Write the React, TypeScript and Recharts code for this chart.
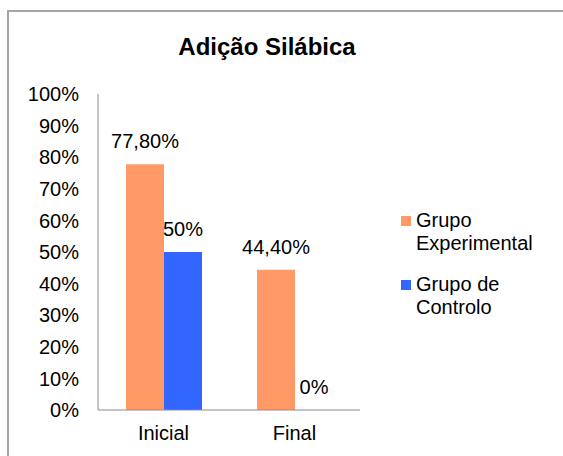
import React from 'react';
import { BarChart, Bar, XAxis, YAxis, Legend, LabelList } from 'recharts';

const categories = ['Inicial', 'Final'];
const experimental = [77.8, 44.4];
const controlo = [50, 0];
const yTicks = [0, 10, 20, 30, 40, 50, 60, 70, 80, 90, 100];
const seriesNames = ['Grupo Experimental', 'Grupo de Controlo'];
const seriesColors = ['#FF9966', '#3366FF'];

const data = categories.map((c, i) => ({
  name: c,
  exp: experimental[i],
  ctl: controlo[i],
}));

const FONT = '"Liberation Sans", Arial, sans-serif';
const FS = 20;

// 77.8 -> "77,80%", 50 -> "50%"
const fmtPct = (v: any) => {
  const n = Number(v);
  return Number.isInteger(n) ? `${n}%` : `${n.toFixed(2).replace('.', ',')}%`;
};

const LegendBox = () => (
  <div style={{ fontFamily: FONT, fontSize: FS, color: '#000' }}>
    {seriesNames.map((name, i) => (
      <div key={name} style={{ display: 'flex', alignItems: 'flex-start', marginBottom: 18 }}>
        <div
          style={{
            width: 10,
            height: 10,
            background: seriesColors[i],
            marginTop: 7,
            marginRight: 5,
            flexShrink: 0,
          }}
        />
        <div style={{ lineHeight: '23px', width: 140 }}>{name}</div>
      </div>
    ))}
  </div>
);

const App: React.FC = () => (
  <div style={{ position: 'absolute', left: 0, top: 0, width: 563, height: 456, background: '#fff', overflow: 'hidden' }}>
    <div
      style={{
        position: 'absolute',
        left: 7,
        top: 10,
        width: 600,
        height: 500,
        borderTop: '2px solid #a6a6a6',
        borderLeft: '2px solid #a6a6a6',
      }}
    />
    <div
      style={{
        position: 'absolute',
        left: 0,
        top: 34,
        width: 534,
        textAlign: 'center',
        fontFamily: FONT,
        fontWeight: 'bold',
        fontSize: 24,
        lineHeight: '26px',
      }}
    >
      Adição Silábica
    </div>
    <BarChart
      width={563}
      height={456}
      data={data}
      margin={{ top: 94, right: 203, bottom: 0, left: 18 }}
      barGap={0}
      barCategoryGap={28}
      style={{ position: 'absolute', left: 0, top: 0, fontFamily: FONT }}
    >
      <XAxis
        dataKey="name"
        axisLine={{ stroke: '#8c8c8c' }}
        tickLine={false}
        tickSize={0}
        tickMargin={16}
        tick={{ fill: '#000', fontSize: FS }}
        height={46}
      />
      <YAxis
        domain={[0, 100]}
        ticks={yTicks}
        tickFormatter={(v) => `${v}%`}
        axisLine={{ stroke: '#8c8c8c' }}
        tickLine={false}
        tickSize={0}
        tickMargin={19}
        tick={{ fill: '#000', fontSize: FS }}
        width={80}
        interval={0}
      />
      <Legend
        layout="vertical"
        align="center"
        verticalAlign="middle"
        content={() => <LegendBox />}
        wrapperStyle={{ left: 401, top: 209, width: 160 }}
      />
      <Bar dataKey="exp" name={seriesNames[0]} fill={seriesColors[0]} isAnimationActive={false}>
        <LabelList dataKey="exp" position="top" offset={16} formatter={fmtPct} fill="#000" fontSize={FS} />
      </Bar>
      <Bar
        dataKey="ctl"
        name={seriesNames[1]}
        fill={seriesColors[1]}
        minPointSize={0.01}
        isAnimationActive={false}
      >
        <LabelList dataKey="ctl" position="top" offset={16} formatter={fmtPct} fill="#000" fontSize={FS} />
      </Bar>
    </BarChart>
  </div>
);

export default App;
